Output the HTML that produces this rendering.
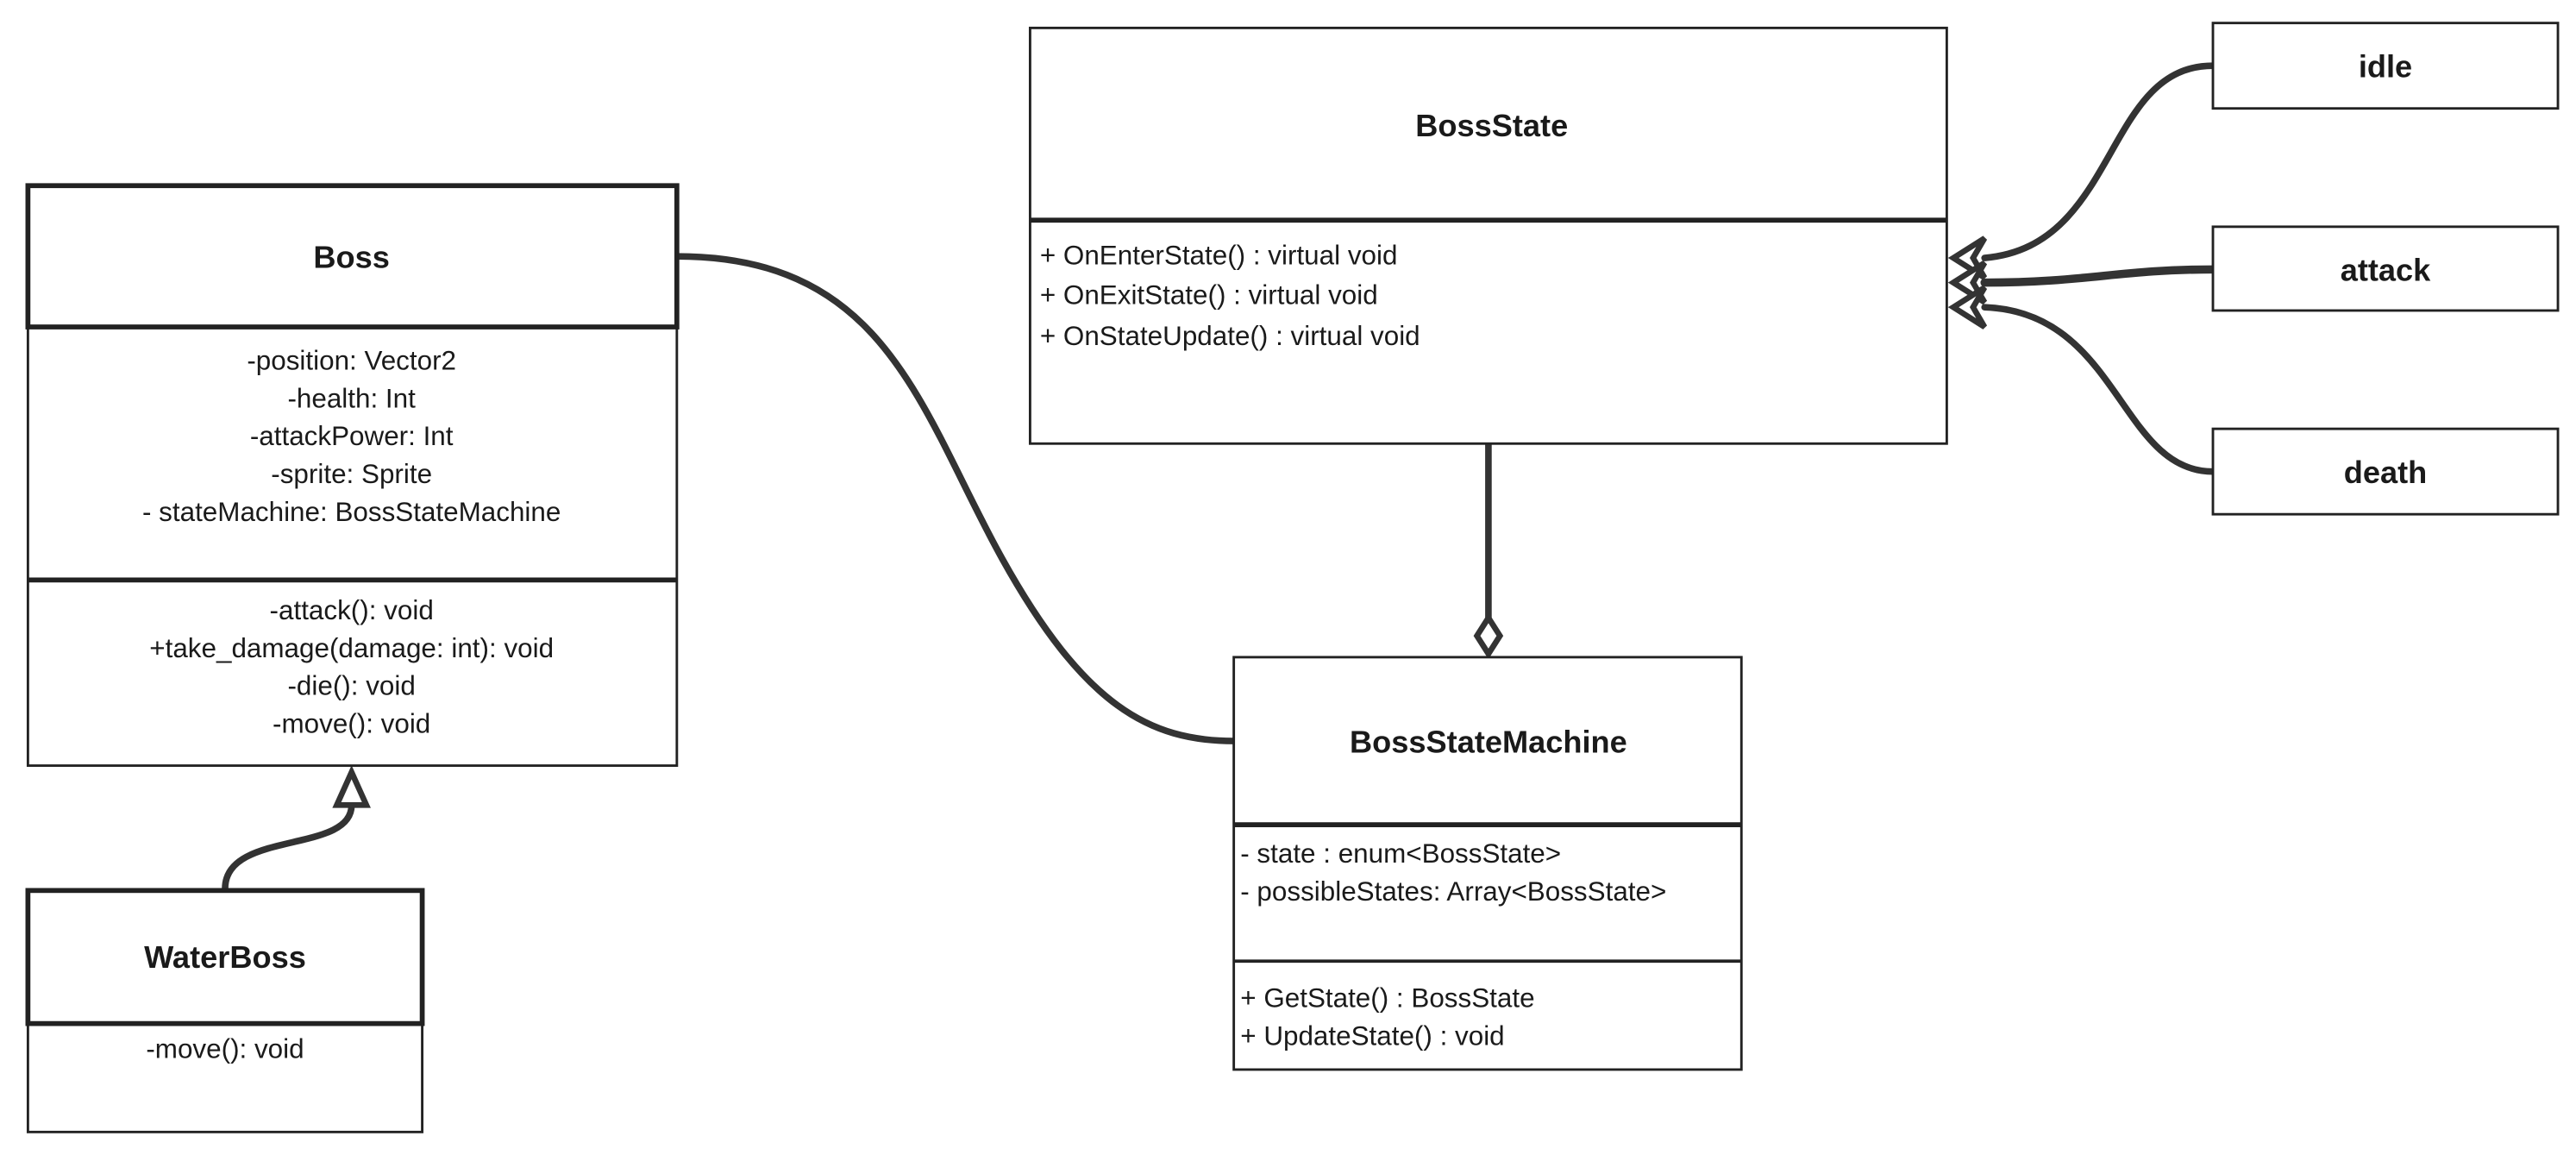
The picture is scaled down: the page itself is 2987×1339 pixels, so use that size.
<!DOCTYPE html>
<html><head><meta charset="utf-8"><style>
html,body{margin:0;padding:0;background:#fff;}
svg{display:block;}
text{font-family:"Liberation Sans",sans-serif;fill:#1a1a1a;}
.t{font-weight:bold;font-size:19px;text-anchor:middle;}
.n{font-size:16.5px;}
.c{text-anchor:middle;}
</style></head><body>
<svg width="2987" height="1339" viewBox="0 0 1568 703" preserveAspectRatio="none" xmlns="http://www.w3.org/2000/svg">
<rect width="1568" height="703" fill="#fff"/>
<g fill="none" stroke="#333" stroke-linecap="round">
 <path d="M412,156 C540,156 560,250 610,340 C660,430 700,451 751,451" stroke-width="4"/>
 <path d="M137,541 C137,505 214,520 214,490" stroke-width="4"/>
 <path d="M906,270 L906,378" stroke-width="4"/>
 <path d="M1347,40 C1280,40 1290,150 1208,157" stroke-width="4"/>
 <path d="M1347,164 C1290,164 1270,172 1208,172" stroke-width="5"/>
 <path d="M1347,287 C1290,287 1290,190 1208,187" stroke-width="4"/>
</g>
<g fill="#fff" stroke="#333" stroke-width="3.5" stroke-linejoin="miter">
 <polygon points="214,470 205,490 223,490"/>
 <polygon points="906,376 899,387 906,398 913,387"/>
 <polygon points="1189,157 1208,145 1201,157 1208,169"/>
 <polygon points="1189,172 1208,160 1201,172 1208,184"/>
 <polygon points="1189,187 1208,175 1201,187 1208,199"/>
</g>
<g fill="#fff" stroke="#222">
 <rect x="17" y="199" width="395" height="267" stroke-width="1.5"/>
 <line x1="17" y1="353" x2="412" y2="353" stroke-width="3"/>
 <rect x="17" y="113" width="395" height="86" stroke-width="3"/>
</g>
<text class="t" x="214" y="163">Boss</text>
<text class="n c" x="214" y="225">-position: Vector2</text>
<text class="n c" x="214" y="248">-health: Int</text>
<text class="n c" x="214" y="271">-attackPower: Int</text>
<text class="n c" x="214" y="294">-sprite:  Sprite</text>
<text class="n c" x="214" y="317">- stateMachine: BossStateMachine</text>
<text class="n c" x="214" y="377">-attack(): void</text>
<text class="n c" x="214" y="400">+take_damage(damage: int): void</text>
<text class="n c" x="214" y="423">-die(): void</text>
<text class="n c" x="214" y="446">-move(): void</text>
<g fill="#fff" stroke="#222">
 <rect x="17" y="623" width="240" height="66" stroke-width="1.5"/>
 <rect x="17" y="542" width="240" height="81" stroke-width="3"/>
</g>
<text class="t" x="137" y="589">WaterBoss</text>
<text class="n c" x="137" y="644">-move(): void</text>
<g fill="#fff" stroke="#222">
 <rect x="627" y="17" width="558" height="253" stroke-width="1.5"/>
 <line x1="627" y1="134" x2="1185" y2="134" stroke-width="3"/>
</g>
<text class="t" x="908" y="83">BossState</text>
<text class="n" x="633" y="161">+ OnEnterState() : virtual void</text>
<text class="n" x="633" y="185">+ OnExitState() : virtual void</text>
<text class="n" x="633" y="210">+ OnStateUpdate() : virtual void</text>
<g fill="#fff" stroke="#222">
 <rect x="751" y="400" width="309" height="251" stroke-width="1.5"/>
 <line x1="751" y1="502" x2="1060" y2="502" stroke-width="3"/>
 <line x1="751" y1="585" x2="1060" y2="585" stroke-width="2"/>
</g>
<text class="t" x="906" y="458">BossStateMachine</text>
<text class="n" x="755" y="525">- state : enum&lt;BossState&gt;</text>
<text class="n" x="755" y="548">- possibleStates: Array&lt;BossState&gt;</text>
<text class="n" x="755" y="613">+ GetState() : BossState</text>
<text class="n" x="755" y="636">+ UpdateState() : void</text>
<g fill="#fff" stroke="#222" stroke-width="1.5">
 <rect x="1347" y="14" width="210" height="52"/>
 <rect x="1347" y="138" width="210" height="51"/>
 <rect x="1347" y="261" width="210" height="52"/>
</g>
<text class="t" x="1452" y="47">idle</text>
<text class="t" x="1452" y="171">attack</text>
<text class="t" x="1452" y="294">death</text>
</svg>
</body></html>
